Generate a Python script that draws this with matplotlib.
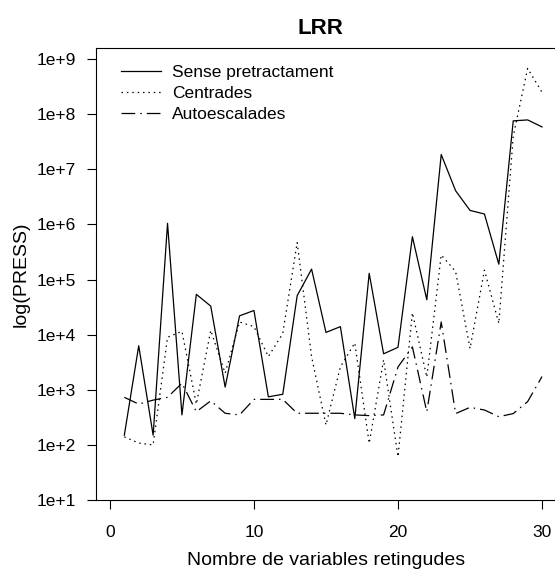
import numpy as np
import matplotlib
matplotlib.use("Agg")
import matplotlib.pyplot as plt

plt.rcParams['font.family'] = ['Liberation Sans', 'DejaVu Sans']

# nombre de variables retingudes
n_vars = [1, 2, 3, 4, 5, 6, 7, 8, 9, 10, 11, 12, 13, 14, 15,
          16, 17, 18, 19, 20, 21, 22, 23, 24, 25, 26, 27, 28, 29, 30]

# PRESS per a cada pretractament
press_sense = [150, 6300, 150, 1.05e6, 350, 54000, 33000, 1120, 22000, 27500,
               745, 830, 51000, 155000, 11000, 14000, 300, 130000, 4500, 5900,
               600000, 43000, 1.86e7, 4.1e6, 1.8e6, 1.55e6, 1.9e5, 7.6e7, 7.9e7, 5.9e7]
press_centrades = [140, 108, 100, 9000, 11500, 550, 12000, 2000, 17000, 14000,
                   4000, 10500, 470000, 4000, 230, 2600, 7100, 107, 3500, 61,
                   25000, 1700, 280000, 140000, 5600, 148000, 16000, 4e7, 6.8e8, 2.5e8]
press_auto = [730, 550, 650, 730, 1320, 400, 630, 375, 350, 670,
              670, 670, 375, 375, 375, 375, 350, 340, 350, 2600,
              6000, 400, 17000, 370, 480, 430, 325, 370, 610, 1740]

noms = ['Sense pretractament', 'Centrades', 'Autoescalades']
yticks = [1e1, 1e2, 1e3, 1e4, 1e5, 1e6, 1e7, 1e8, 1e9]
ytick_labels = ['1e+1', '1e+2', '1e+3', '1e+4', '1e+5', '1e+6', '1e+7', '1e+8', '1e+9']
xticks = [0, 10, 20, 30]

fig = plt.figure(figsize=(5.55, 5.70), dpi=100)
ax = fig.add_axes([0.1721, 0.1228, 0.8305, 0.793])

lw = 0.9
ax.plot(n_vars, press_sense, color='black', lw=lw, label=noms[0])
ax.plot(n_vars, press_centrades, color='black', lw=lw,
        linestyle=(0, (1.2, 3.1)), label=noms[1])
ax.plot(n_vars, press_auto, color='black', lw=lw,
        linestyle=(0, (11, 4, 1.2, 4)), label=noms[2])

ax.set_yscale('log')
ax.set_xlim(-1, 31)
ax.set_ylim(10, 10 ** 9.203)
ax.set_yticks(yticks)
ax.set_yticklabels(ytick_labels)
ax.yaxis.set_minor_locator(matplotlib.ticker.NullLocator())
ax.set_xticks(xticks)

ax.tick_params(axis='both', direction='out', length=6.8, width=0.8,
               labelsize=12.5, color='black')
ax.tick_params(axis='y', pad=7)
ax.tick_params(axis='x', pad=11)
for s in ax.spines.values():
    s.set_linewidth(0.8)

ax.set_xlabel('Nombre de variables retingudes', fontsize=14, labelpad=9)
ax.set_ylabel('log(PRESS)', fontsize=14, labelpad=5)
ax.set_title('LRR', fontsize=16, fontweight='bold', pad=10, x=0.488)

ax.legend(loc='upper left', bbox_to_anchor=(0.055, 0.962), frameon=False,
          fontsize=12.5, handlelength=2.3, handletextpad=0.63,
          labelspacing=0.32, borderpad=0, borderaxespad=0)

fig.savefig('out.png', dpi=100)
